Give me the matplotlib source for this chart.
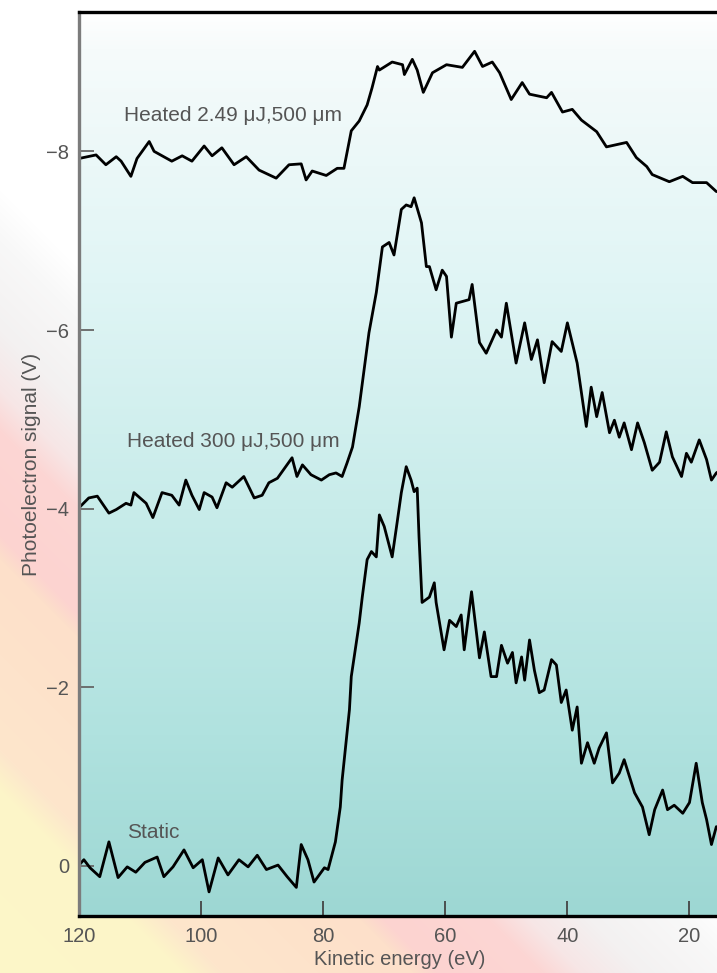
import numpy as np
import matplotlib
matplotlib.use("Agg")
import matplotlib.pyplot as plt

plt.rcParams['font.family'] = ['Liberation Sans', 'DejaVu Sans']

# ---------------- data ----------------
# Heated 2.49 uJ, 500 um
E1 = [120.0, 117.2, 115.6, 113.9, 113.1, 111.5, 110.5, 108.5, 107.7, 104.8,
      103.1, 101.5, 99.5, 98.2, 96.6, 94.6, 92.6, 90.5, 87.7, 85.6,
      83.6, 82.8, 81.8, 79.5, 77.7, 76.6, 75.4, 74.1, 72.8, 72.0,
      71.1, 70.8, 68.7, 67.0, 66.7, 65.4, 64.6, 63.6, 62.1, 59.8,
      57.2, 55.2, 53.9, 52.3, 51.1, 49.2, 47.4, 46.2, 43.4, 42.6,
      40.8, 39.2, 37.7, 35.2, 33.6, 30.3, 28.7, 27.0, 26.1, 23.3,
      21.1, 19.5, 17.2, 15.6, 14.5]
V1 = [-7.92, -7.96, -7.85, -7.94, -7.89, -7.72, -7.92, -8.11, -8.00, -7.89,
      -7.95, -7.89, -8.06, -7.95, -8.04, -7.85, -7.94, -7.79, -7.70, -7.85,
      -7.86, -7.68, -7.78, -7.73, -7.81, -7.81, -8.23, -8.34, -8.52, -8.71,
      -8.95, -8.91, -9.00, -8.97, -8.86, -9.03, -8.91, -8.66, -8.88, -8.97,
      -8.94, -9.12, -8.95, -9.00, -8.88, -8.58, -8.77, -8.64, -8.60, -8.66,
      -8.44, -8.47, -8.35, -8.22, -8.05, -8.10, -7.93, -7.83, -7.74, -7.66,
      -7.72, -7.65, -7.65, -7.55, -7.55]

# Heated 300 uJ, 500 um
E2 = [120.0, 118.4, 117.0, 115.1, 113.9, 112.3, 111.5, 111.0, 109.0, 107.9,
      106.4, 104.8, 103.6, 102.5, 101.5, 100.3, 99.5, 98.2, 97.4, 95.9,
      94.9, 93.0, 91.3, 90.0, 88.9, 87.5, 85.1, 84.3, 83.4, 82.0,
      80.3, 79.0, 77.9, 76.9, 76.1, 75.2, 74.1, 72.5, 71.3, 70.3,
      69.2, 68.4, 67.2, 66.4, 65.6, 65.1, 63.9, 63.1, 62.6, 61.5,
      60.5, 59.8, 59.0, 58.2, 56.1, 55.6, 54.4, 53.3, 51.6, 50.8,
      50.0, 48.4, 47.0, 45.9, 44.9, 43.8, 42.5, 41.0, 40.0, 38.4,
      36.9, 36.1, 35.2, 34.3, 33.1, 32.3, 31.5, 30.7, 29.5, 28.5,
      27.4, 26.1, 24.9, 23.8, 22.8, 21.3, 20.5, 19.7, 18.4, 17.2,
      16.4, 15.6, 14.5]
V2 = [-4.01, -4.12, -4.14, -3.95, -3.99, -4.06, -4.04, -4.18, -4.06, -3.90,
      -4.18, -4.15, -4.04, -4.32, -4.15, -3.99, -4.18, -4.13, -4.01, -4.29,
      -4.24, -4.36, -4.12, -4.15, -4.29, -4.34, -4.57, -4.36, -4.49, -4.38,
      -4.32, -4.38, -4.40, -4.36, -4.51, -4.69, -5.14, -5.97, -6.42, -6.93,
      -6.98, -6.84, -7.35, -7.40, -7.38, -7.48, -7.20, -6.71, -6.71, -6.45,
      -6.67, -6.60, -5.92, -6.30, -6.34, -6.51, -5.86, -5.74, -6.00, -5.92,
      -6.30, -5.63, -6.08, -5.67, -5.89, -5.41, -5.87, -5.76, -6.08, -5.63,
      -4.92, -5.36, -5.03, -5.30, -4.85, -4.99, -4.80, -4.96, -4.66, -4.96,
      -4.74, -4.43, -4.52, -4.86, -4.58, -4.36, -4.62, -4.52, -4.77, -4.55,
      -4.32, -4.40, -4.45]

# Static
E3 = [120.0, 119.2, 118.2, 116.6, 115.1, 113.6, 112.1, 110.7, 109.2, 107.2,
      106.1, 104.6, 102.8, 101.3, 99.8, 98.7, 97.2, 95.6, 93.8, 92.3,
      90.8, 89.3, 87.4, 85.9, 84.4, 83.6, 82.5, 81.5, 79.8, 79.2,
      78.0, 77.2, 76.9, 75.7, 75.4, 74.1, 73.6, 72.8, 72.1, 71.3,
      70.8, 70.0, 68.7, 67.9, 67.2, 66.4, 65.6, 65.1, 64.6, 64.3,
      63.8, 62.6, 61.8, 61.5, 60.2, 59.3, 58.2, 57.4, 56.9, 55.7,
      54.4, 53.6, 52.5, 51.6, 50.8, 49.8, 49.0, 48.4, 47.5, 47.0,
      46.2, 45.4, 44.6, 43.8, 42.6, 41.8, 41.0, 40.2, 39.2, 38.4,
      37.7, 36.7, 35.6, 34.8, 33.6, 32.6, 31.5, 30.7, 29.0, 27.7,
      26.6, 25.7, 24.4, 23.6, 22.5, 21.1, 20.0, 18.9, 17.9, 17.2,
      16.4, 15.6, 14.5]
V3 = [-0.01, -0.07, 0.02, 0.12, -0.27, 0.13, 0.01, 0.07, -0.04, -0.10,
      0.12, 0.01, -0.18, 0.02, -0.07, 0.29, -0.09, 0.10, -0.07, 0.01,
      -0.12, 0.04, -0.01, 0.12, 0.24, -0.24, -0.07, 0.18, 0.02, 0.04,
      -0.27, -0.66, -0.96, -1.75, -2.12, -2.72, -3.01, -3.43, -3.52, -3.46,
      -3.93, -3.80, -3.46, -3.84, -4.18, -4.47, -4.32, -4.19, -4.23, -3.68,
      -2.95, -3.01, -3.17, -2.95, -2.42, -2.75, -2.68, -2.81, -2.42, -3.07,
      -2.33, -2.62, -2.12, -2.12, -2.47, -2.27, -2.39, -2.05, -2.34, -2.08,
      -2.53, -2.19, -1.94, -1.97, -2.31, -2.25, -1.83, -1.97, -1.52, -1.78,
      -1.15, -1.38, -1.15, -1.32, -1.49, -0.93, -1.04, -1.19, -0.82, -0.66,
      -0.35, -0.63, -0.85, -0.63, -0.68, -0.59, -0.71, -1.15, -0.71, -0.52,
      -0.24, -0.44, -0.40]

labels = ["Heated 2.49 μJ,500 μm", "Heated 300 μJ,500 μm", "Static"]
label_E = [112.6, 112.1, 112.1]
label_V = [-8.40, -4.75, -0.37]

xticks = [120, 100, 80, 60, 40, 20]
yticks = [0, -2, -4, -6, -8]

# ---------------- figure ----------------
W, H = 717, 973
fig = plt.figure(figsize=(W / 100, H / 100), dpi=100)
fig.patch.set_facecolor('white')

# pastel diagonal background of the figure
yy, xx = np.mgrid[0:H, 0:W]
u = xx - yy
stops_u = [-1100, -790, -750, -560, -535, -430, -390, -330, -240, -190, 2000]
stops_c = ['#fcf8c8', '#fcf5c8', '#fde6cc', '#fde0ca', '#fcd3d0', '#fcd6d4',
           '#f7e6e6', '#f3f1f1', '#f8f8f8', '#ffffff', '#ffffff']
rgb = np.array([matplotlib.colors.to_rgb(c) for c in stops_c])
bg = np.zeros((H, W, 3))
for k in range(3):
    bg[..., k] = np.interp(u, stops_u, rgb[:, k])
fig.figimage(bg, xo=0, yo=0, origin='upper', zorder=-10)

left = 79 / W
bottom = (H - 916) / H
width = (720 - 79) / W
height = (916 - 12) / H

# axes gradient background
bgax = fig.add_axes([left, bottom, width, height], zorder=0)
gpos = [0.0, 0.04, 0.30, 0.55, 0.80, 1.0]
gcol = ['#ffffff', '#f6fbfb', '#e0f5f5', '#c8ecea', '#b0e2df', '#9dd7d3']
grgb = np.array([matplotlib.colors.to_rgb(c) for c in gcol])
t = np.linspace(0, 1, 400)
grad = np.stack([np.interp(t, gpos, grgb[:, k]) for k in range(3)], axis=-1)
grad = np.repeat(grad[:, None, :], 4, axis=1)
bgax.imshow(grad, aspect='auto', extent=[0, 1, 0, 1], origin='upper')
bgax.set_axis_off()

ax = fig.add_axes([left, bottom, width, height], zorder=1)
ax.patch.set_alpha(0)

for E, V in [(E1, V1), (E2, V2), (E3, V3)]:
    ax.plot(E, V, color='black', lw=2.0, solid_joinstyle='round')

for txt, e, v in zip(labels, label_E, label_V):
    ax.text(e, v, txt, ha='left', va='center', fontsize=15, color='#555555')

ax.set_xlim(120, 15)
ax.set_ylim(0.56, -9.56)
ax.set_xticks(xticks)
ax.set_yticks(yticks)
ax.set_xticklabels([str(v) for v in xticks])
ax.set_yticklabels(['0', '−2', '−4', '−6', '−8'])

ax.tick_params(axis='x', direction='in', length=11, width=1.3, color='#444444',
               labelsize=14.5, labelcolor='#555555', pad=8)
ax.tick_params(axis='y', direction='in', length=11, width=1.3, color='#666666',
               labelsize=14.5, labelcolor='#555555', pad=7)

ax.set_xlabel('Kinetic energy (eV)', fontsize=14.5, color='#555555', labelpad=3)
ax.set_ylabel('Photoelectron signal (V)', fontsize=15, color='#555555', labelpad=4)

for side in ['top', 'bottom']:
    ax.spines[side].set_color('black')
    ax.spines[side].set_linewidth(2.4)
ax.spines['left'].set_color('#7c7c7c')
ax.spines['left'].set_linewidth(2.4)
ax.spines['right'].set_visible(False)

fig.savefig('out.png', dpi=100, facecolor=fig.get_facecolor())
